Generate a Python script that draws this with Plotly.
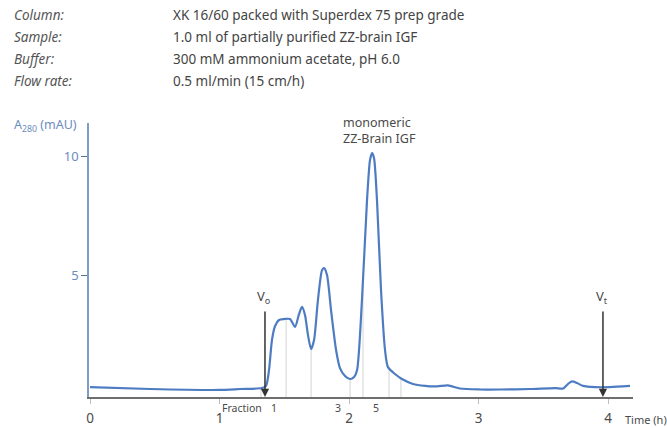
import numpy as np
import plotly.graph_objects as go

# Elution time (h) and absorbance at 280 nm (mAU)
time_h = [0.0, 0.463, 1.0, 1.16, 1.328, 1.359, 1.382, 1.405, 1.429, 1.459, 1.498, 1.544,
          1.583, 1.614, 1.637, 1.66, 1.683, 1.707, 1.73, 1.76, 1.792, 1.807, 1.83, 1.861,
          1.90, 1.93, 1.969, 2.008, 2.039, 2.062, 2.10, 2.139, 2.162, 2.178, 2.193, 2.216,
          2.247, 2.278, 2.301, 2.355, 2.409, 2.494, 2.587, 2.68, 2.764, 2.857, 3.01, 3.166,
          3.398, 3.591, 3.653, 3.69, 3.722, 3.761, 3.807, 3.90, 4.015, 4.17]
a280 = [0.29, 0.21, 0.17, 0.21, 0.25, 0.34, 1.0, 2.27, 2.86, 3.11, 3.15, 3.15,
        2.82, 3.36, 3.66, 3.32, 2.48, 1.89, 2.27, 3.95, 5.21, 5.29, 5.0, 3.53,
        1.85, 1.09, 0.76, 0.63, 0.71, 1.0, 3.95, 8.15, 9.83, 10.13, 9.92, 8.15,
        4.37, 1.85, 1.13, 0.84, 0.63, 0.42, 0.34, 0.32, 0.36, 0.23, 0.19, 0.19,
        0.21, 0.25, 0.23, 0.42, 0.53, 0.46, 0.34, 0.29, 0.29, 0.34]

# Fraction boundaries (h)
fraction_cuts = [1.320, 1.514, 1.707, 2.008, 2.108, 2.309, 2.401]
fraction_labels = ["1", "3", "5"]
fraction_label_x = [1.421, 1.915, 2.208]

# Void and total column volumes (h)
v_void = 1.351
v_total = 3.961

x_ticks = [0, 1, 2, 3, 4]
y_ticks = [5, 10]

X_RANGE = [-0.008, 4.193]
Y_RANGE = [-0.126, 11.39]

FONT = "Noto Sans"
GRAY = "#4a4a4a"
BLUE_AX = "#7f9cc8"
CURVE = "#4d7cc2"

# plot area in pixels
L, R, T, B = 89, 34, 123, 31
PW, PH = 667 - L - R, 428 - T - B


def px(xp):
    return (xp - L) / PW


def py(yp):
    return 1 - (yp - T) / PH


fig = go.Figure()

# Fraction cut marks, from the axis up to the trace
for fx in fraction_cuts:
    fy = float(np.interp(fx, time_h, a280))
    fig.add_shape(type="line", x0=fx, x1=fx, y0=Y_RANGE[0], y1=fy,
                  line=dict(color="#d4d4d4", width=1), layer="below")

fig.add_trace(go.Scatter(x=time_h, y=a280, mode="lines",
                         line=dict(color=CURVE, width=2.2, shape="spline", smoothing=0.7),
                         hoverinfo="skip", showlegend=False))

fig.update_xaxes(range=X_RANGE, tickvals=x_ticks, ticktext=[str(t) for t in x_ticks],
                 showgrid=False, zeroline=False, showline=True, linecolor="#6e6e6e",
                 linewidth=1.5, ticks="outside", ticklen=5, tickcolor="#bdbdbd",
                 tickwidth=1, ticklabelstandoff=3, automargin=False,
                 tickfont=dict(family=FONT, size=13.5, color=GRAY))
fig.update_yaxes(range=Y_RANGE, tickvals=y_ticks, ticktext=[str(t) for t in y_ticks],
                 showgrid=False, zeroline=False, showline=True, linecolor=BLUE_AX,
                 linewidth=1.5, ticks="outside", ticklen=6, tickcolor="#5a6f90",
                 tickwidth=1.2, automargin=False,
                 tickfont=dict(family=FONT, size=13, color="#6b8cc0"))

ann = []
# Header block
rows = [("Column:", "XK 16/60 packed with Superdex 75 prep grade"),
        ("Sample:", "1.0 ml of partially purified ZZ-brain IGF"),
        ("Buffer:", "300 mM ammonium acetate, pH 6.0"),
        ("Flow rate:", "0.5 ml/min (15 cm/h)")]
for i, (k, v) in enumerate(rows):
    yy = 15 + i * 22
    ann.append(dict(xref="paper", yref="paper", x=px(12), y=py(yy),
                    text=f"<i>{k}</i>", showarrow=False, xanchor="left", yanchor="middle",
                    font=dict(family=FONT, size=13.5, color="#555555")))
    ann.append(dict(xref="paper", yref="paper", x=px(171), y=py(yy),
                    text=v, showarrow=False, xanchor="left", yanchor="middle",
                    font=dict(family=FONT, size=13.5, color="#444444")))

# Y-axis title
ann.append(dict(xref="paper", yref="paper", x=px(12), y=py(125),
                text="A<sub>280</sub> (mAU)", showarrow=False, xanchor="left", yanchor="middle",
                font=dict(family=FONT, size=12.5, color="#6b8cc0")))

# Peak label
ann.append(dict(xref="paper", yref="paper", x=px(341), y=py(130),
                text="monomeric<br>ZZ-Brain IGF", showarrow=False,
                xanchor="left", yanchor="middle", align="left",
                font=dict(family=FONT, size=12.5, color=GRAY)))

# Void / total volume arrows
for vx, lab in [(v_void, "V<sub>o</sub>"), (v_total, "V<sub>t</sub>")]:
    ann.append(dict(x=vx, y=Y_RANGE[0], ax=vx, ay=3.53, axref="x", ayref="y",
                    text="", showarrow=True, arrowhead=2, arrowsize=1.1, arrowwidth=1.5,
                    arrowcolor="#333333"))
    ann.append(dict(x=vx, y=3.53, text=lab, showarrow=False, yanchor="bottom",
                    xanchor="center", yshift=1, xshift=-1,
                    font=dict(family=FONT, size=13, color=GRAY)))

# Fraction labels
ann.append(dict(xref="paper", yref="y", x=px(264), y=Y_RANGE[0], text="Fraction",
                showarrow=False, xanchor="right", yanchor="top", yshift=-2,
                font=dict(family=FONT, size=10.5, color=GRAY)))
for fx, fl in zip(fraction_label_x, fraction_labels):
    ann.append(dict(x=fx, y=Y_RANGE[0], text=fl, showarrow=False, xanchor="center",
                    yanchor="top", yshift=-2,
                    font=dict(family=FONT, size=10.5, color=GRAY)))

# X-axis title
ann.append(dict(xref="paper", yref="paper", x=px(623), y=py(419), text="Time (h)",
                showarrow=False, xanchor="left", yanchor="middle",
                font=dict(family=FONT, size=11, color=GRAY)))

fig.update_layout(width=667, height=428, margin=dict(l=L, r=R, t=T, b=B),
                  paper_bgcolor="white", plot_bgcolor="white", annotations=ann,
                  font=dict(family=FONT))

fig.write_html("out.html")
